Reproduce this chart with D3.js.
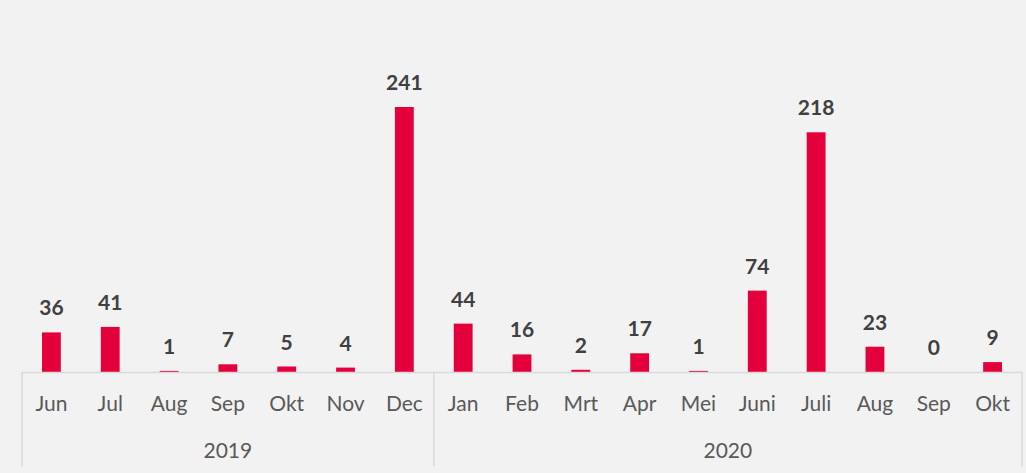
<!DOCTYPE html>
<html>
<head>
<meta charset="utf-8">
<style>
	body { margin: 0; background: #f2f2f2; }
	text { font-family: Lato, "Open Sans", sans-serif; }
</style>
</head>
<body>
<div id="chart"></div>

<script src="https://d3js.org/d3.v7.min.js"></script>
<script>

	var w = 1026, h = 473;

	// data
	var months = ["Jun", "Jul", "Aug", "Sep", "Okt", "Nov", "Dec",
	              "Jan", "Feb", "Mrt", "Apr", "Mei", "Juni", "Juli", "Aug", "Sep", "Okt"];
	var years = ["2019", "2019", "2019", "2019", "2019", "2019", "2019",
	             "2020", "2020", "2020", "2020", "2020", "2020", "2020", "2020", "2020", "2020"];
	var values = [36, 41, 1, 7, 5, 4, 241, 44, 16, 2, 17, 1, 74, 218, 23, 0, 9];
	var yearLabels = ["2019", "2020"];

	var dataset = months.map(function(m, i) {
		return { key: i, month: m, year: years[i], value: values[i] };
	});

	var svg = d3.select("#chart")
				.append("svg")
				.attr("width", w)
				.attr("height", h);

	svg.append("rect")
	   .attr("width", w)
	   .attr("height", h)
	   .attr("fill", "#f2f2f2");

	// scales
	var x = d3.scaleBand()
	          .domain(dataset.map(function(d) { return d.key; }))
	          .range([22, 1022])
	          .paddingInner(0.68)
	          .paddingOuter(0.34);
	var y = d3.scaleLinear()
	          .domain([0, 241])
	          .range([372, 107]);

	var step = x.step();

	// bars
	svg.selectAll("rect.bar")
	   .data(dataset)
	   .enter()
	   .append("rect")
	   .attr("class", "bar")
	   .attr("x", function(d) { return x(d.key); })
	   .attr("y", function(d) { return y(d.value); })
	   .attr("width", x.bandwidth())
	   .attr("height", function(d) { return y(0) - y(d.value); })
	   .attr("fill", "#e4003b");

	// value labels
	svg.selectAll("text.value")
	   .data(dataset)
	   .enter()
	   .append("text")
	   .attr("class", "value")
	   .attr("x", function(d) { return x(d.key) + x.bandwidth() / 2; })
	   .attr("y", function(d) { return y(d.value) - 17; })
	   .attr("text-anchor", "middle")
	   .attr("font-size", 21)
	   .attr("font-weight", "bold")
	   .attr("fill", "#404040")
	   .text(function(d) { return d.value; });

	// axis line
	var axisColor = "#d9d9d9";
	svg.append("line")
	   .attr("x1", 22).attr("x2", 1022)
	   .attr("y1", 372.5).attr("y2", 372.5)
	   .attr("stroke", axisColor)
	   .attr("stroke-width", 1.5);

	// month labels
	svg.selectAll("text.month")
	   .data(dataset)
	   .enter()
	   .append("text")
	   .attr("class", "month")
	   .attr("x", function(d) { return x(d.key) + x.bandwidth() / 2; })
	   .attr("y", 411)
	   .attr("text-anchor", "middle")
	   .attr("font-size", 21)
	   .attr("fill", "#595959")
	   .text(function(d) { return d.month; });

	// year groups
	var groups = yearLabels.map(function(yr) {
		var keys = dataset.filter(function(d) { return d.year === yr; })
		                  .map(function(d) { return d.key; });
		return {
			year: yr,
			x0: x(d3.min(keys)) - (step - x.bandwidth()) / 2,
			x1: x(d3.max(keys)) + x.bandwidth() + (step - x.bandwidth()) / 2
		};
	});

	var seps = [groups[0].x0].concat(groups.map(function(g) { return g.x1; }));
	svg.selectAll("line.sep")
	   .data(seps)
	   .enter()
	   .append("line")
	   .attr("class", "sep")
	   .attr("x1", function(d) { return d; })
	   .attr("x2", function(d) { return d; })
	   .attr("y1", 372)
	   .attr("y2", 466)
	   .attr("stroke", axisColor)
	   .attr("stroke-width", 1.5);

	svg.selectAll("text.year")
	   .data(groups)
	   .enter()
	   .append("text")
	   .attr("class", "year")
	   .attr("x", function(d) { return (d.x0 + d.x1) / 2; })
	   .attr("y", 458)
	   .attr("text-anchor", "middle")
	   .attr("font-size", 21)
	   .attr("fill", "#595959")
	   .text(function(d) { return d.year; });

</script>
</body>
</html>
